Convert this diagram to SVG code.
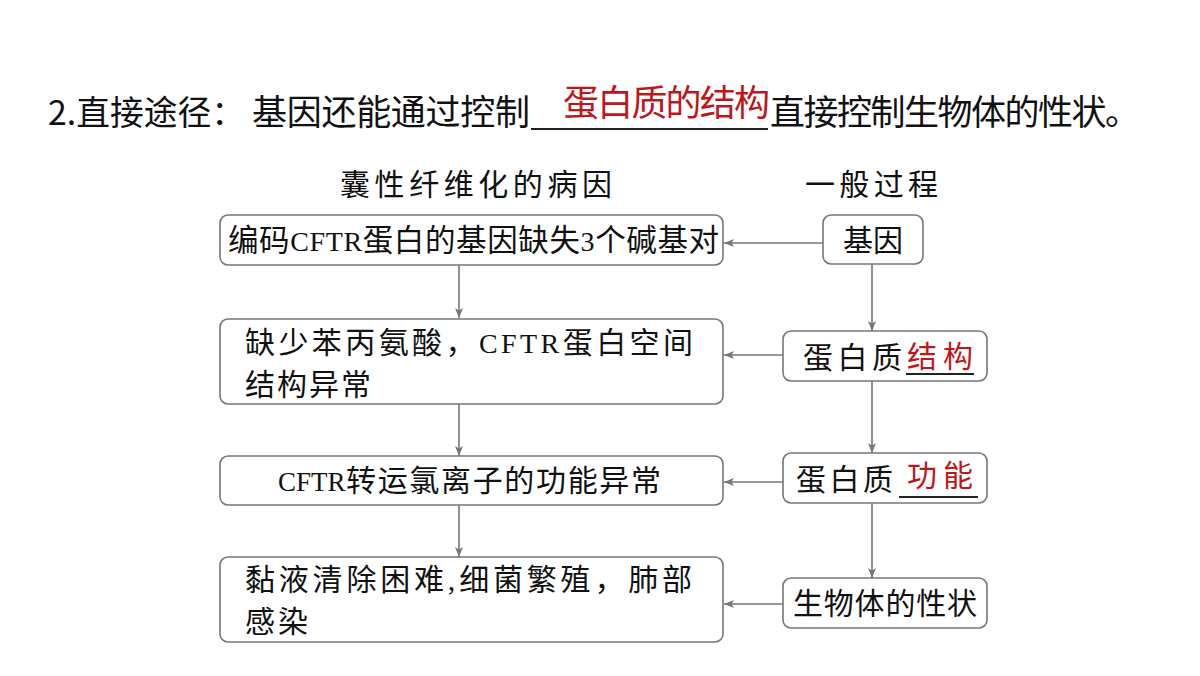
<svg xmlns="http://www.w3.org/2000/svg" width="1200" height="676" viewBox="0 0 1200 676">
<style>
.serif{font-family:"Liberation Serif","Noto Sans CJK SC",serif;fill:#111;}
.sans{font-family:"Noto Sans CJK SC","Liberation Sans",sans-serif;fill:#111;}
.red{fill:#c0161a;}
.box{fill:#fff;stroke:#777;stroke-width:1.6;}
.conn{stroke:#777;stroke-width:1.6;fill:none;marker-end:url(#ah);}
.ul{stroke:#222;stroke-width:1.8;}
.t{font-size:30px;}
.lat{font-size:28px;}
</style>
<defs>
<marker id="ah" viewBox="0 0 10 10" refX="10" refY="5" markerWidth="10" markerHeight="10" markerUnits="userSpaceOnUse" orient="auto">
<path d="M0,1 L10,5 L0,9 L2.5,5 z" fill="#777"/>
</marker>
</defs>
<rect width="1200" height="676" fill="#fff"/>

<g id="title">
<text class="sans" x="48" y="125" font-size="34" textLength="197" lengthAdjust="spacingAndGlyphs">2.直接途径：</text>
<text class="serif" x="252" y="125" font-size="35" textLength="278" lengthAdjust="spacing">基因还能通过控制</text>
<line class="ul" x1="531" y1="129" x2="768" y2="129"/>
<text class="serif red" x="563" y="116" font-size="36" textLength="207" lengthAdjust="spacing">蛋白质的结构</text>
<text class="serif" x="770" y="125" font-size="35" textLength="370" lengthAdjust="spacing">直接控制生物体的性状。</text>
</g>

<g id="headers">
<text class="serif" x="340" y="195" font-size="30" textLength="272" lengthAdjust="spacing">囊性纤维化的病因</text>
<text class="serif" x="805" y="195" font-size="30" textLength="133" lengthAdjust="spacing">一般过程</text>
</g>

<g id="connectors">
<line class="conn" x1="459" y1="265" x2="459" y2="318"/>
<line class="conn" x1="459" y1="404" x2="459" y2="456"/>
<line class="conn" x1="459" y1="505" x2="459" y2="557"/>
<line class="conn" x1="872" y1="264" x2="872" y2="331"/>
<line class="conn" x1="872" y1="381" x2="872" y2="453"/>
<line class="conn" x1="872" y1="503" x2="872" y2="578"/>
<line class="conn" x1="823" y1="243" x2="724" y2="243"/>
<line class="conn" x1="783" y1="355" x2="724" y2="355"/>
<line class="conn" x1="783" y1="482" x2="724" y2="482"/>
<line class="conn" x1="783" y1="604" x2="724" y2="604"/>
</g>

<g id="node-l1">
<rect class="box" x="220" y="215" width="503" height="50" rx="8"/>
<text class="serif" x="228" y="251" font-size="30.5" textLength="491" lengthAdjust="spacing">编码<tspan class="lat">CFTR</tspan>蛋白的基因缺失<tspan class="lat">3</tspan>个碱基对</text>
</g>
<g id="node-l2">
<rect class="box" x="220" y="319" width="503" height="85" rx="8"/>
<text class="serif t" x="245" y="353" textLength="448" lengthAdjust="spacing">缺少苯丙氨酸，<tspan class="lat">CFTR</tspan>蛋白空间</text>
<text class="serif t" x="245" y="395" textLength="126" lengthAdjust="spacing">结构异常</text>
</g>
<g id="node-l3">
<rect class="box" x="220" y="456" width="503" height="49" rx="8"/>
<text class="serif t" x="278" y="491"><tspan font-size="27">CFTR</tspan><tspan x="346" textLength="315" lengthAdjust="spacing">转运氯离子的功能异常</tspan></text>
</g>
<g id="node-l4">
<rect class="box" x="220" y="557" width="503" height="85" rx="8"/>
<text class="serif t" x="245" y="590" textLength="447" lengthAdjust="spacing">黏液清除困难,细菌繁殖，肺部</text>
<text class="serif t" x="245" y="632" textLength="63" lengthAdjust="spacing">感染</text>
</g>

<g id="node-r1">
<rect class="box" x="823" y="215" width="100" height="49" rx="8"/>
<text class="serif t" x="843" y="251" textLength="60" lengthAdjust="spacing">基因</text>
</g>
<g id="node-r2">
<rect class="box" x="783" y="331" width="204" height="50" rx="8"/>
<text class="serif t" x="803" y="368" textLength="99" lengthAdjust="spacing">蛋白质</text>
<text class="serif t red" x="907" y="367" textLength="66" lengthAdjust="spacing">结构</text>
<line class="ul" x1="906" y1="374" x2="974" y2="374"/>
</g>
<g id="node-r3">
<rect class="box" x="783" y="453" width="204" height="50" rx="8"/>
<text class="serif t" x="796" y="490" textLength="97" lengthAdjust="spacing">蛋白质</text>
<text class="serif t red" x="907" y="486" textLength="66" lengthAdjust="spacing">功能</text>
<line class="ul" x1="899" y1="497" x2="978" y2="497"/>
</g>
<g id="node-r4">
<rect class="box" x="783" y="578" width="204" height="50" rx="8"/>
<text class="serif t" x="793" y="614" textLength="184" lengthAdjust="spacing">生物体的性状</text>
</g>
</svg>
